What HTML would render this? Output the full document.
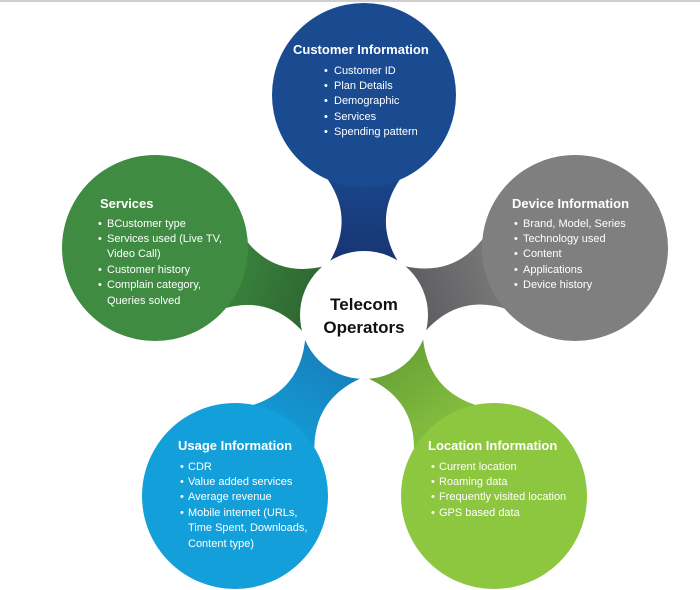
<!DOCTYPE html>
<html><head><meta charset="utf-8"><style>
html,body{margin:0;padding:0;background:#fff}
svg{display:block}
text{font-family:"Liberation Sans",sans-serif}
.t{font-size:13px;font-weight:bold;fill:#fff}
.i{font-size:11px;fill:#fff}
</style></head><body>
<svg width="700" height="590" viewBox="0 0 700 590">
<defs>
<linearGradient id="gb" gradientUnits="userSpaceOnUse" x1="0" y1="-165" x2="0" y2="-25"><stop offset="0" stop-color="#1b4b92"/><stop offset="1" stop-color="#162f6a"/></linearGradient>
<linearGradient id="gg" gradientUnits="userSpaceOnUse" x1="0" y1="-165" x2="0" y2="-25"><stop offset="0" stop-color="#3d8b40"/><stop offset="1" stop-color="#2a5e2e"/></linearGradient>
<linearGradient id="gy" gradientUnits="userSpaceOnUse" x1="0" y1="-165" x2="0" y2="-25"><stop offset="0" stop-color="#808081"/><stop offset="1" stop-color="#555558"/></linearGradient>
<linearGradient id="gl" gradientUnits="userSpaceOnUse" x1="0" y1="-165" x2="0" y2="-25"><stop offset="0" stop-color="#13a0da"/><stop offset="1" stop-color="#1779b5"/></linearGradient>
<linearGradient id="gm" gradientUnits="userSpaceOnUse" x1="0" y1="-165" x2="0" y2="-25"><stop offset="0" stop-color="#8dc63f"/><stop offset="1" stop-color="#5f9a35"/></linearGradient>
<path id="neck" d="M -64,-165 L 64,-165 Q -16,-100 56,-25 L -56,-25 Q 15,-100 -64,-165 Z"/>
</defs>
<rect x="0" y="0" width="700" height="2" fill="#cfcfcf"/>
<g transform="translate(364,315)">
<use href="#neck" fill="url(#gb)" transform="rotate(0)"/>
<use href="#neck" fill="url(#gy)" transform="rotate(72.4)"/>
<use href="#neck" fill="url(#gg)" transform="rotate(-72.4)"/>
<use href="#neck" fill="url(#gm)" transform="rotate(144.3)"/>
<use href="#neck" fill="url(#gl)" transform="rotate(-144.3)"/>
</g>
<circle cx="364" cy="95" r="92" fill="#1a4b91"/>
<circle cx="155" cy="248" r="93" fill="#3e8b41"/>
<circle cx="575" cy="248" r="93" fill="#7f7f80"/>
<circle cx="235" cy="496" r="93" fill="#13a0da"/>
<circle cx="494" cy="496" r="93" fill="#8dc63f"/>
<circle cx="364" cy="315" r="64" fill="#fff"/>
<text x="364" y="310" text-anchor="middle" style="font-size:17px;font-weight:bold;fill:#111">Telecom</text>
<text x="364" y="333" text-anchor="middle" style="font-size:17px;font-weight:bold;fill:#111">Operators</text>

<text class="t" x="293" y="54">Customer Information</text>
<g class="i"><text x="324" y="74">•</text><text x="334" y="74">Customer ID</text>
<text x="324" y="89">•</text><text x="334" y="89">Plan Details</text>
<text x="324" y="104">•</text><text x="334" y="104">Demographic</text>
<text x="324" y="120">•</text><text x="334" y="120">Services</text>
<text x="324" y="135">•</text><text x="334" y="135">Spending pattern</text></g>

<text class="t" x="100" y="208">Services</text>
<g class="i"><text x="98" y="227">•</text><text x="107" y="227">BCustomer type</text>
<text x="98" y="242">•</text><text x="107" y="242">Services used (Live TV,</text>
<text x="107" y="257">Video Call)</text>
<text x="98" y="273">•</text><text x="107" y="273">Customer history</text>
<text x="98" y="288">•</text><text x="107" y="288">Complain category,</text>
<text x="107" y="304">Queries solved</text></g>

<text class="t" x="512" y="208">Device Information</text>
<g class="i"><text x="514" y="227">•</text><text x="523" y="227">Brand, Model, Series</text>
<text x="514" y="242">•</text><text x="523" y="242">Technology used</text>
<text x="514" y="257">•</text><text x="523" y="257">Content</text>
<text x="514" y="273">•</text><text x="523" y="273">Applications</text>
<text x="514" y="288">•</text><text x="523" y="288">Device history</text></g>

<text class="t" x="178" y="450">Usage Information</text>
<g class="i"><text x="180" y="470">•</text><text x="188" y="470">CDR</text>
<text x="180" y="485">•</text><text x="188" y="485">Value added services</text>
<text x="180" y="500">•</text><text x="188" y="500">Average revenue</text>
<text x="180" y="516">•</text><text x="188" y="516">Mobile internet (URLs,</text>
<text x="188" y="531">Time Spent, Downloads,</text>
<text x="188" y="547">Content type)</text></g>

<text class="t" x="428" y="450">Location Information</text>
<g class="i"><text x="431" y="470">•</text><text x="439" y="470">Current location</text>
<text x="431" y="485">•</text><text x="439" y="485">Roaming data</text>
<text x="431" y="500">•</text><text x="439" y="500">Frequently visited location</text>
<text x="431" y="516">•</text><text x="439" y="516">GPS based data</text></g>
</svg>
</body></html>
